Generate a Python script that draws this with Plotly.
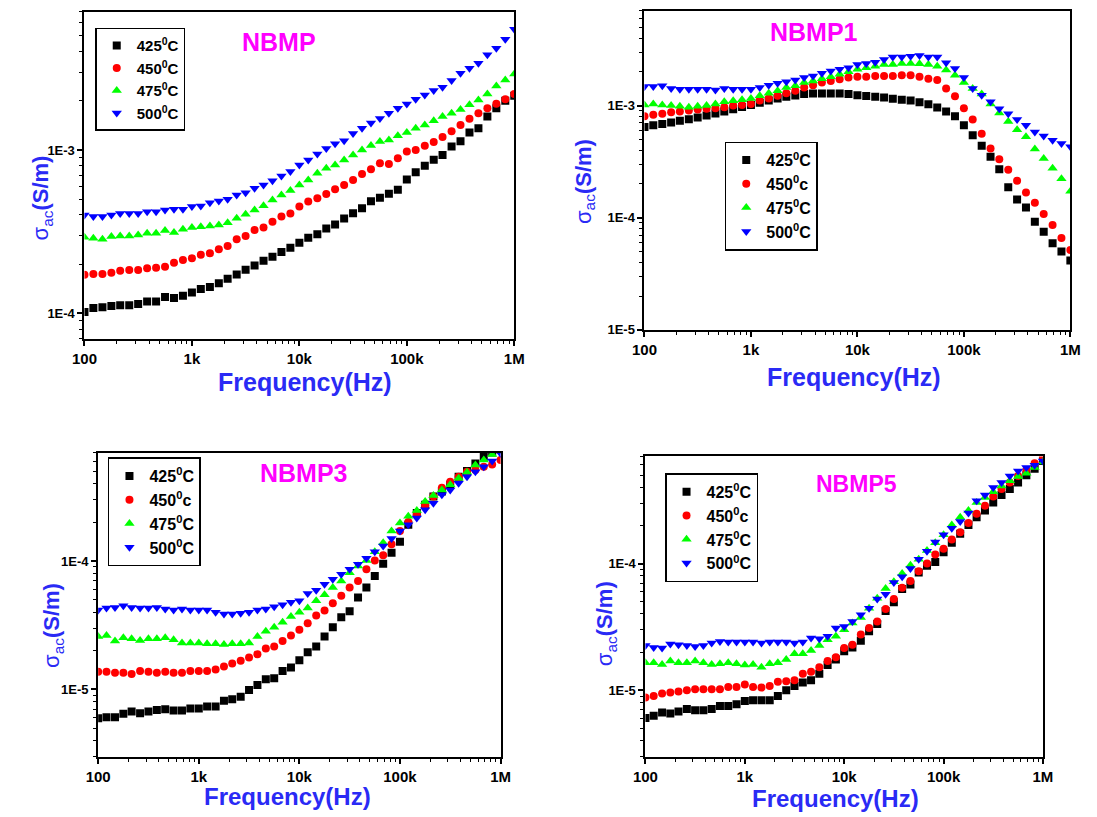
import plotly.graph_objects as go
import math

# ---------------- data ----------------
freq = [100, 121, 147, 178, 215, 261, 316, 383, 464, 562, 681, 825,
        1000, 1210, 1470, 1780, 2150, 2610, 3160, 3830, 4640, 5620, 6810, 8250,
        10000, 12100, 14700, 17800, 21500, 26100, 31600, 38300, 46400, 56200, 68100, 82500,
        100000, 121000, 147000, 178000, 215000, 261000, 316000, 383000, 464000, 562000, 681000, 825000, 1000000]

temps = ["425", "450", "475", "500"]

# NBMP
nbmp_425 = [1.02e-4, 1.08e-4, 1.09e-4, 1.11e-4, 1.12e-4, 1.12e-4, 1.14e-4, 1.18e-4, 1.18e-4, 1.26e-4, 1.24e-4, 1.28e-4,
            1.34e-4, 1.41e-4, 1.45e-4, 1.53e-4, 1.63e-4, 1.73e-4, 1.85e-4, 1.96e-4, 2.10e-4, 2.22e-4, 2.37e-4, 2.52e-4,
            2.70e-4, 2.90e-4, 3.05e-4, 3.30e-4, 3.50e-4, 3.80e-4, 4.10e-4, 4.40e-4, 4.85e-4, 5.10e-4, 5.40e-4, 5.70e-4,
            6.60e-4, 7.30e-4, 8.00e-4, 8.70e-4, 9.30e-4, 1.05e-3, 1.13e-3, 1.28e-3, 1.36e-3, 1.60e-3, 1.80e-3, 2.00e-3, 2.15e-3]
nbmp_450 = [1.72e-4, 1.74e-4, 1.74e-4, 1.77e-4, 1.82e-4, 1.84e-4, 1.84e-4, 1.89e-4, 1.90e-4, 1.93e-4, 2.04e-4, 2.12e-4,
            2.17e-4, 2.28e-4, 2.33e-4, 2.47e-4, 2.58e-4, 2.84e-4, 2.97e-4, 3.24e-4, 3.35e-4, 3.64e-4, 3.91e-4, 4.09e-4,
            4.50e-4, 4.83e-4, 5.06e-4, 5.38e-4, 5.74e-4, 6.11e-4, 6.55e-4, 7.13e-4, 7.61e-4, 8.28e-4, 8.21e-4, 8.89e-4,
            9.77e-4, 1.00e-3, 1.06e-3, 1.12e-3, 1.20e-3, 1.30e-3, 1.42e-3, 1.55e-3, 1.68e-3, 1.80e-3, 1.92e-3, 2.04e-3, 2.20e-3]
nbmp_475 = [2.92e-4, 2.88e-4, 2.84e-4, 2.95e-4, 2.97e-4, 2.97e-4, 3.02e-4, 3.09e-4, 3.09e-4, 3.21e-4, 3.12e-4, 3.27e-4,
            3.35e-4, 3.39e-4, 3.43e-4, 3.47e-4, 3.59e-4, 3.82e-4, 4.04e-4, 4.29e-4, 4.56e-4, 4.94e-4, 5.30e-4, 5.64e-4,
            6.11e-4, 6.55e-4, 7.20e-4, 7.72e-4, 8.09e-4, 8.68e-4, 9.31e-4, 1.00e-3, 1.063e-3, 1.125e-3, 1.15e-3, 1.22e-3,
            1.28e-3, 1.36e-3, 1.42e-3, 1.51e-3, 1.60e-3, 1.68e-3, 1.77e-3, 1.89e-3, 2.02e-3, 2.20e-3, 2.46e-3, 2.68e-3, 2.92e-3]
nbmp_500 = [4.00e-4, 3.91e-4, 3.91e-4, 4.00e-4, 4.09e-4, 4.09e-4, 4.09e-4, 4.19e-4, 4.19e-4, 4.29e-4, 4.33e-4, 4.33e-4,
            4.50e-4, 4.54e-4, 4.76e-4, 4.87e-4, 4.99e-4, 5.30e-4, 5.48e-4, 5.83e-4, 6.11e-4, 6.49e-4, 6.93e-4, 7.37e-4,
            8.09e-4, 8.68e-4, 9.45e-4, 1.02e-3, 1.09e-3, 1.14e-3, 1.26e-3, 1.36e-3, 1.46e-3, 1.56e-3, 1.68e-3, 1.80e-3,
            1.91e-3, 2.04e-3, 2.17e-3, 2.31e-3, 2.42e-3, 2.66e-3, 2.95e-3, 3.16e-3, 3.39e-3, 3.82e-3, 4.19e-3, 4.76e-3, 5.48e-3]

# NBMP1
nbmp1_425 = [6.44e-4, 6.67e-4, 6.84e-4, 7.08e-4, 7.32e-4, 7.57e-4, 7.83e-4, 8.16e-4, 8.50e-4, 8.85e-4, 9.28e-4, 9.73e-4,
             1.01e-3, 1.06e-3, 1.11e-3, 1.16e-3, 1.20e-3, 1.23e-3, 1.27e-3, 1.28e-3, 1.28e-3, 1.28e-3, 1.28e-3, 1.27e-3,
             1.24e-3, 1.22e-3, 1.20e-3, 1.18e-3, 1.15e-3, 1.13e-3, 1.11e-3, 1.07e-3, 1.03e-3, 9.60e-4, 8.85e-4, 8.05e-4,
             6.67e-4, 5.43e-4, 4.38e-4, 3.50e-4, 2.70e-4, 1.87e-4, 1.45e-4, 1.23e-4, 9.20e-5, 7.50e-5, 5.90e-5, 5.00e-5, 4.15e-5]
nbmp1_450 = [8.05e-4, 8.27e-4, 8.44e-4, 8.73e-4, 8.85e-4, 9.04e-4, 9.22e-4, 9.35e-4, 9.47e-4, 9.67e-4, 1.00e-3, 1.01e-3,
             1.035e-3, 1.11e-3, 1.16e-3, 1.225e-3, 1.29e-3, 1.36e-3, 1.45e-3, 1.52e-3, 1.61e-3, 1.66e-3, 1.72e-3, 1.78e-3,
             1.81e-3, 1.81e-3, 1.84e-3, 1.84e-3, 1.84e-3, 1.87e-3, 1.87e-3, 1.81e-3, 1.74e-3, 1.69e-3, 1.42e-3, 1.21e-3,
             9.47e-4, 7.52e-4, 5.62e-4, 4.15e-4, 3.32e-4, 2.67e-4, 2.13e-4, 1.68e-4, 1.36e-4, 1.08e-4, 8.60e-5, 6.57e-5, 5.15e-5]
nbmp1_475 = [1.01e-3, 1.035e-3, 1.01e-3, 1.00e-3, 9.86e-4, 9.67e-4, 9.86e-4, 1.00e-3, 1.035e-3, 1.085e-3, 1.107e-3, 1.13e-3,
             1.16e-3, 1.225e-3, 1.29e-3, 1.357e-3, 1.45e-3, 1.50e-3, 1.61e-3, 1.66e-3, 1.74e-3, 1.81e-3, 1.90e-3, 2.00e-3,
             2.11e-3, 2.18e-3, 2.25e-3, 2.33e-3, 2.33e-3, 2.38e-3, 2.38e-3, 2.36e-3, 2.33e-3, 2.25e-3, 2.08e-3, 1.87e-3,
             1.61e-3, 1.42e-3, 1.27e-3, 1.035e-3, 8.61e-4, 7.22e-4, 6.10e-4, 5.26e-4, 4.09e-4, 3.38e-4, 2.76e-4, 2.22e-4, 1.72e-4]
nbmp1_500 = [1.48e-3, 1.48e-3, 1.50e-3, 1.42e-3, 1.40e-3, 1.40e-3, 1.40e-3, 1.40e-3, 1.38e-3, 1.42e-3, 1.40e-3, 1.40e-3,
             1.40e-3, 1.45e-3, 1.52e-3, 1.585e-3, 1.63e-3, 1.69e-3, 1.78e-3, 1.84e-3, 1.94e-3, 2.04e-3, 2.11e-3, 2.18e-3,
             2.33e-3, 2.38e-3, 2.44e-3, 2.58e-3, 2.72e-3, 2.72e-3, 2.76e-3, 2.80e-3, 2.72e-3, 2.72e-3, 2.41e-3, 2.14e-3,
             1.78e-3, 1.42e-3, 1.24e-3, 1.085e-3, 9.35e-4, 8.44e-4, 7.52e-4, 6.67e-4, 5.82e-4, 5.36e-4, 4.91e-4, 4.59e-4, 4.29e-4]

# NBMP3
nbmp3_425 = [5.97e-6, 6.08e-6, 6.08e-6, 6.45e-6, 6.72e-6, 6.52e-6, 6.72e-6, 6.91e-6, 7.00e-6, 6.84e-6, 6.84e-6, 7.10e-6,
             7.10e-6, 7.35e-6, 7.35e-6, 8.17e-6, 8.37e-6, 8.78e-6, 9.88e-6, 1.08e-5, 1.20e-5, 1.22e-5, 1.39e-5, 1.48e-5,
             1.69e-5, 1.95e-5, 2.16e-5, 2.58e-5, 3.05e-5, 3.65e-5, 4.06e-5, 5.20e-5, 6.22e-5, 7.65e-5, 9.53e-5, 1.16e-4,
             1.41e-4, 1.92e-4, 2.37e-4, 2.74e-4, 3.18e-4, 3.48e-4, 3.92e-4, 4.54e-4, 5.02e-4, 5.75e-4, 6.48e-4, 7.00e-4, 7.40e-4]
nbmp3_450 = [1.37e-5, 1.37e-5, 1.35e-5, 1.35e-5, 1.32e-5, 1.39e-5, 1.37e-5, 1.35e-5, 1.37e-5, 1.35e-5, 1.35e-5, 1.39e-5,
             1.39e-5, 1.39e-5, 1.43e-5, 1.51e-5, 1.59e-5, 1.67e-5, 1.77e-5, 1.88e-5, 2.08e-5, 2.16e-5, 2.38e-5, 2.63e-5,
             2.91e-5, 3.28e-5, 3.76e-5, 4.11e-5, 4.68e-5, 5.36e-5, 6.22e-5, 7.00e-5, 8.62e-5, 1.01e-4, 1.11e-4, 1.35e-4,
             1.71e-4, 2.01e-4, 2.30e-4, 2.71e-4, 3.18e-4, 3.73e-4, 4.15e-4, 4.54e-4, 4.97e-4, 5.12e-4, 5.43e-4, 5.66e-4, 6.11e-4]
nbmp3_475 = [2.58e-5, 2.63e-5, 2.38e-5, 2.52e-5, 2.48e-5, 2.40e-5, 2.48e-5, 2.48e-5, 2.52e-5, 2.44e-5, 2.30e-5, 2.30e-5,
             2.30e-5, 2.27e-5, 2.27e-5, 2.24e-5, 2.27e-5, 2.27e-5, 2.30e-5, 2.58e-5, 2.84e-5, 3.05e-5, 3.34e-5, 3.69e-5,
             3.99e-5, 4.31e-5, 4.91e-5, 5.46e-5, 6.22e-5, 7.00e-5, 8.12e-5, 9.15e-5, 1.01e-4, 1.18e-4, 1.39e-4, 1.71e-4,
             1.98e-4, 2.23e-4, 2.47e-4, 2.91e-4, 3.24e-4, 3.58e-4, 3.92e-4, 4.41e-4, 4.91e-4, 5.59e-4, 6.11e-4, 6.76e-4, 7.43e-4]
nbmp3_500 = [4.16e-5, 4.31e-5, 4.35e-5, 4.49e-5, 4.35e-5, 4.31e-5, 4.31e-5, 4.35e-5, 4.23e-5, 4.16e-5, 4.23e-5, 4.16e-5,
             4.16e-5, 4.16e-5, 3.99e-5, 3.87e-5, 3.87e-5, 3.92e-5, 3.99e-5, 4.16e-5, 4.23e-5, 4.41e-5, 4.57e-5, 4.77e-5,
             4.91e-5, 5.59e-5, 5.93e-5, 6.60e-5, 7.21e-5, 7.89e-5, 8.62e-5, 9.42e-5, 1.05e-4, 1.18e-4, 1.31e-4, 1.50e-4,
             1.71e-4, 1.92e-4, 2.16e-4, 2.51e-4, 2.82e-4, 3.28e-4, 3.58e-4, 4.04e-4, 4.54e-4, 4.97e-4, 5.43e-4, 6.00e-4, 6.88e-4]

# NBMP5
nbmp5_425 = [6.04e-6, 6.30e-6, 6.68e-6, 6.56e-6, 6.81e-6, 7.10e-6, 6.97e-6, 6.97e-6, 7.10e-6, 7.53e-6, 7.53e-6, 7.76e-6,
             8.24e-6, 8.35e-6, 8.35e-6, 8.35e-6, 9.03e-6, 1.00e-5, 1.08e-5, 1.15e-5, 1.20e-5, 1.35e-5, 1.58e-5, 1.75e-5,
             2.03e-5, 2.18e-5, 2.46e-5, 2.92e-5, 3.33e-5, 4.23e-5, 4.95e-5, 6.30e-5, 6.85e-5, 8.51e-5, 9.59e-5, 1.03e-4,
             1.23e-4, 1.46e-4, 1.72e-4, 2.02e-4, 2.32e-4, 2.62e-4, 3.04e-4, 3.47e-4, 3.87e-4, 4.36e-4, 4.97e-4, 5.61e-4, 6.44e-4]
nbmp5_450 = [8.77e-6, 9.03e-6, 9.42e-6, 9.59e-6, 9.77e-6, 1.00e-5, 1.02e-5, 1.02e-5, 1.02e-5, 1.02e-5, 1.06e-5, 1.06e-5,
             1.11e-5, 1.06e-5, 1.05e-5, 1.08e-5, 1.17e-5, 1.18e-5, 1.20e-5, 1.35e-5, 1.40e-5, 1.52e-5, 1.70e-5, 1.82e-5,
             2.16e-5, 2.29e-5, 2.75e-5, 3.10e-5, 3.49e-5, 4.38e-5, 5.26e-5, 6.45e-5, 7.27e-5, 8.71e-5, 1.00e-4, 1.18e-4,
             1.31e-4, 1.55e-4, 1.77e-4, 2.09e-4, 2.47e-4, 2.86e-4, 3.39e-4, 3.87e-4, 4.36e-4, 4.92e-4, 5.48e-4, 6.18e-4, 6.97e-4]
nbmp5_475 = [1.65e-5, 1.65e-5, 1.60e-5, 1.70e-5, 1.65e-5, 1.65e-5, 1.70e-5, 1.65e-5, 1.60e-5, 1.62e-5, 1.65e-5, 1.62e-5,
             1.58e-5, 1.60e-5, 1.52e-5, 1.62e-5, 1.65e-5, 1.75e-5, 1.94e-5, 1.94e-5, 2.06e-5, 2.26e-5, 2.51e-5, 2.67e-5,
             3.01e-5, 3.39e-5, 3.75e-5, 4.44e-5, 5.32e-5, 6.37e-5, 7.18e-5, 8.35e-5, 9.70e-5, 1.08e-4, 1.27e-4, 1.46e-4,
             1.69e-4, 2.02e-4, 2.32e-4, 2.62e-4, 3.04e-4, 3.32e-4, 3.68e-4, 4.10e-4, 4.50e-4, 4.86e-4, 5.16e-4, 5.72e-4, 6.34e-4]
nbmp5_500 = [2.26e-5, 2.18e-5, 2.16e-5, 2.32e-5, 2.29e-5, 2.26e-5, 2.22e-5, 2.26e-5, 2.36e-5, 2.43e-5, 2.40e-5, 2.40e-5,
             2.40e-5, 2.40e-5, 2.36e-5, 2.40e-5, 2.40e-5, 2.40e-5, 2.36e-5, 2.40e-5, 2.59e-5, 2.55e-5, 2.67e-5, 3.10e-5,
             3.19e-5, 3.49e-5, 3.94e-5, 4.44e-5, 5.26e-5, 5.72e-5, 7.10e-5, 7.87e-5, 9.14e-5, 1.08e-4, 1.25e-4, 1.48e-4,
             1.69e-4, 1.90e-4, 2.15e-4, 2.51e-4, 3.13e-4, 3.47e-4, 3.99e-4, 4.36e-4, 4.92e-4, 5.38e-4, 5.72e-4, 5.96e-4, 6.44e-4]

x_tickvals = [100, 1000, 10000, 100000, 1000000]
x_ticktext = ["100", "1k", "10k", "100k", "1M"]

# ---------------- styles ----------------
W, H = 1097, 817
colors = ["#000000", "#FF0000", "#00FF00", "#0000FF"]
symbols = ["square", "circle", "triangle-up", "triangle-down"]
msizes = [8, 8, 9, 9]
FONT = "Liberation Sans, Arial, sans-serif"
BLUE = "#2a2af5"
MAGENTA = "#FF00FF"


def px(x):
    return x / W


def py(y):
    return 1 - y / H


panels = [
    dict(name="NBMP", series=[nbmp_425, nbmp_450, nbmp_475, nbmp_500], lower_c=False,
         box=(73, 512, 12, 342), yr=(7e-5, 7e-3), yt=[1e-4, 1e-3], ytt=["1E-4", "1E-3"],
         title_xy=(272, 42), tsize=25, legend_xy=(84, 28), lsize=15,
         xt_xy=(298, 386), xtsize=25, yt_xy=(30, 200)),
    dict(name="NBMP1", series=[nbmp1_425, nbmp1_450, nbmp1_475, nbmp1_500], lower_c=True,
         box=(645, 1080, 11, 333), yr=(1e-5, 7e-3), yt=[1e-5, 1e-4, 1e-3], ytt=["1E-5", "1E-4", "1E-3"],
         title_xy=(818, 32), tsize=25, legend_xy=(727, 143), lsize=16,
         xt_xy=(859, 381), xtsize=25, yt_xy=(584, 183)),
    dict(name="NBMP3", series=[nbmp3_425, nbmp3_450, nbmp3_475, nbmp3_500], lower_c=True,
         box=(87, 498, 457, 764), yr=(3e-6, 7e-4), yt=[1e-5, 1e-4], ytt=["1E-5", "1E-4"],
         title_xy=(297, 478), tsize=25, legend_xy=(97, 462), lsize=16,
         xt_xy=(280, 804), xtsize=24, yt_xy=(41, 632)),
    dict(name="NBMP5", series=[nbmp5_425, nbmp5_450, nbmp5_475, nbmp5_500], lower_c=True,
         box=(646, 1052, 461, 764), yr=(3e-6, 7e-4), yt=[1e-5, 1e-4], ytt=["1E-5", "1E-4"],
         title_xy=(862, 489), tsize=23, legend_xy=(666, 478), lsize=16,
         xt_xy=(840, 806), xtsize=24, yt_xy=(606, 630)),
]

fig = go.Figure()
layout = dict(width=W, height=H, margin=dict(l=0, r=0, t=0, b=0), autosize=False,
              paper_bgcolor="white", plot_bgcolor="white", annotations=[],
              font=dict(family=FONT, color="black"))

x_minor = [m * 10 ** d for d in range(2, 6) for m in range(2, 10)]

for i, p in enumerate(panels):
    n = "" if i == 0 else str(i + 1)
    xa, ya = "x" + n, "y" + n
    leg = "legend" + n
    for j, s in enumerate(p["series"]):
        suffix = "c" if (p["lower_c"] and j == 1) else "C"
        fig.add_trace(go.Scatter(
            x=freq, y=s, mode="markers", xaxis=xa, yaxis=ya, legend=leg,
            name=temps[j] + "<sup>0</sup>" + suffix,
            marker=dict(symbol=symbols[j], size=msizes[j], color=colors[j], line=dict(width=0)),
        ))
    x0, x1, y0, y1 = p["box"]
    lo, hi = p["yr"]
    dlo, dhi = int(math.floor(math.log10(lo))), int(math.ceil(math.log10(hi)))
    y_minor = [m * 10 ** d for d in range(dlo, dhi) for m in range(2, 10)]
    layout["xaxis" + n] = dict(
        type="log", domain=[px(x0), px(x1)], range=[2, 6], anchor=ya,
        showline=True, linecolor="black", linewidth=2, mirror=True, showgrid=False, zeroline=False,
        ticks="outside", ticklen=5, tickwidth=1.5, tickcolor="black",
        tickvals=x_tickvals, ticktext=x_ticktext,
        tickfont=dict(size=15, family=FONT, color="black", weight="bold"),
        minor=dict(ticks="outside", ticklen=3, tickwidth=1.2, tickcolor="black",
                   tickmode="array", tickvals=x_minor, showgrid=False),
    )
    layout["yaxis" + n] = dict(
        type="log", domain=[py(y1), py(y0)], range=[math.log10(lo), math.log10(hi)], anchor=xa,
        showline=True, linecolor="black", linewidth=2, mirror=True, showgrid=False, zeroline=False,
        ticks="outside", ticklen=5, tickwidth=1.5, tickcolor="black",
        tickvals=p["yt"], ticktext=p["ytt"],
        tickfont=dict(size=13, family=FONT, color="black", weight="bold"),
        minor=dict(ticks="outside", ticklen=3, tickwidth=1.2, tickcolor="black",
                   tickmode="array", tickvals=y_minor, showgrid=False),
    )
    lx, ly = p["legend_xy"]
    layout[leg] = dict(
        x=px(lx), y=py(ly), xanchor="left", yanchor="top", xref="paper", yref="paper",
        bordercolor="black", borderwidth=1.5, bgcolor="white",
        font=dict(size=p["lsize"], family=FONT, color="black", weight="bold"),
        itemwidth=30, tracegroupgap=0,
    )
    tx, ty = p["title_xy"]
    layout["annotations"].append(dict(
        x=px(tx), y=py(ty), xref="paper", yref="paper", showarrow=False,
        text="<b>" + p["name"] + "</b>", font=dict(size=p["tsize"], color=MAGENTA, family=FONT),
        xanchor="center", yanchor="middle"))
    fx, fy = p["xt_xy"]
    layout["annotations"].append(dict(
        x=px(fx), y=py(fy), xref="paper", yref="paper", showarrow=False,
        text="<b>Frequency(Hz)</b>", font=dict(size=p["xtsize"], color=BLUE, family=FONT),
        xanchor="center", yanchor="middle"))
    sx, sy = p["yt_xy"]
    layout["annotations"].append(dict(
        x=px(sx), y=py(sy), xref="paper", yref="paper", showarrow=False, textangle=-90,
        text="σ<sub>ac</sub><b>(S/m)</b>", font=dict(size=22, color=BLUE, family=FONT),
        xanchor="center", yanchor="middle"))

fig.update_layout(**layout)
fig.write_html("out.html")
